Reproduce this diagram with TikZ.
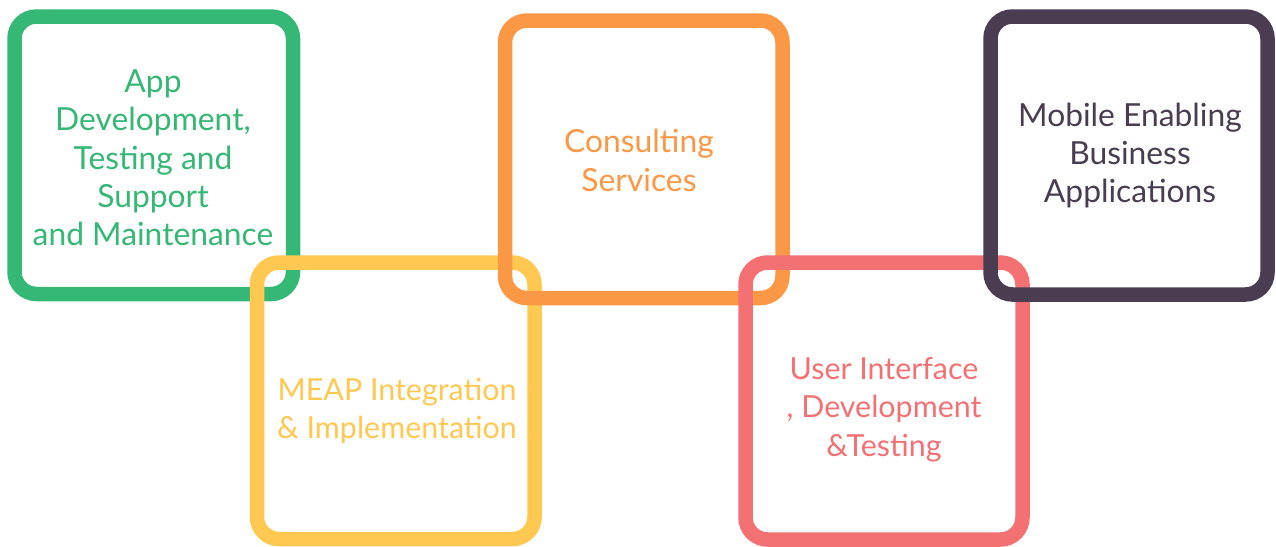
\documentclass[tikz,border=0pt]{standalone}
\usepackage{fontspec}
\setmainfont{Lato}
\definecolor{cgreen}{HTML}{35B775}
\definecolor{cyellow}{HTML}{FEC851}
\definecolor{corange}{HTML}{FA9846}
\definecolor{cred}{HTML}{F37073}
\definecolor{cdark}{HTML}{4A3D52}
\begin{document}
\begin{tikzpicture}[x=1pt,y=-1pt,
  frame/.style={line width=14.5pt,rounded corners=22pt},
  label/.style={align=center,inner sep=0pt,font=\fontsize{31.8}{38.3}\selectfont},
  smalllabel/.style={label,font=\fontsize{30.4}{38.3}\selectfont}]
\useasboundingbox (0,0) rectangle (1276,546);
\draw[frame,cgreen] (14.5,16.5) rectangle (293,294) coordinate (g);
\draw[frame,cyellow] (257,262.5) rectangle (534.5,539) coordinate (y);
\draw[frame,corange] (505,20.5) rectangle (782.5,298) coordinate (o);
\draw[frame,cred] (745.5,262.5) rectangle (1022.5,539.5) coordinate (r);
\draw[frame,cdark] (990.5,16.5) rectangle (1267.5,294.5) coordinate (d);
\node[label,text=cgreen] (tg) at (153,158) {App\\Development,\\Testing and\\Support\\and Maintenance};
\node[smalllabel,text=cyellow] (ty) at (397,411) {MEAP Integration\\\& Implementation};
\node[label,text=corange] (to) at (639,160.5) {Consulting\\Services};
\node[smalllabel,text=cred] (tr) at (884,409.5) {User Interface\\, Development\\\&Testing};
\node[label,text=cdark] (td) at (1130,155.5) {Mobile Enabling\\Business\\Applications};
\end{tikzpicture}
\end{document}
